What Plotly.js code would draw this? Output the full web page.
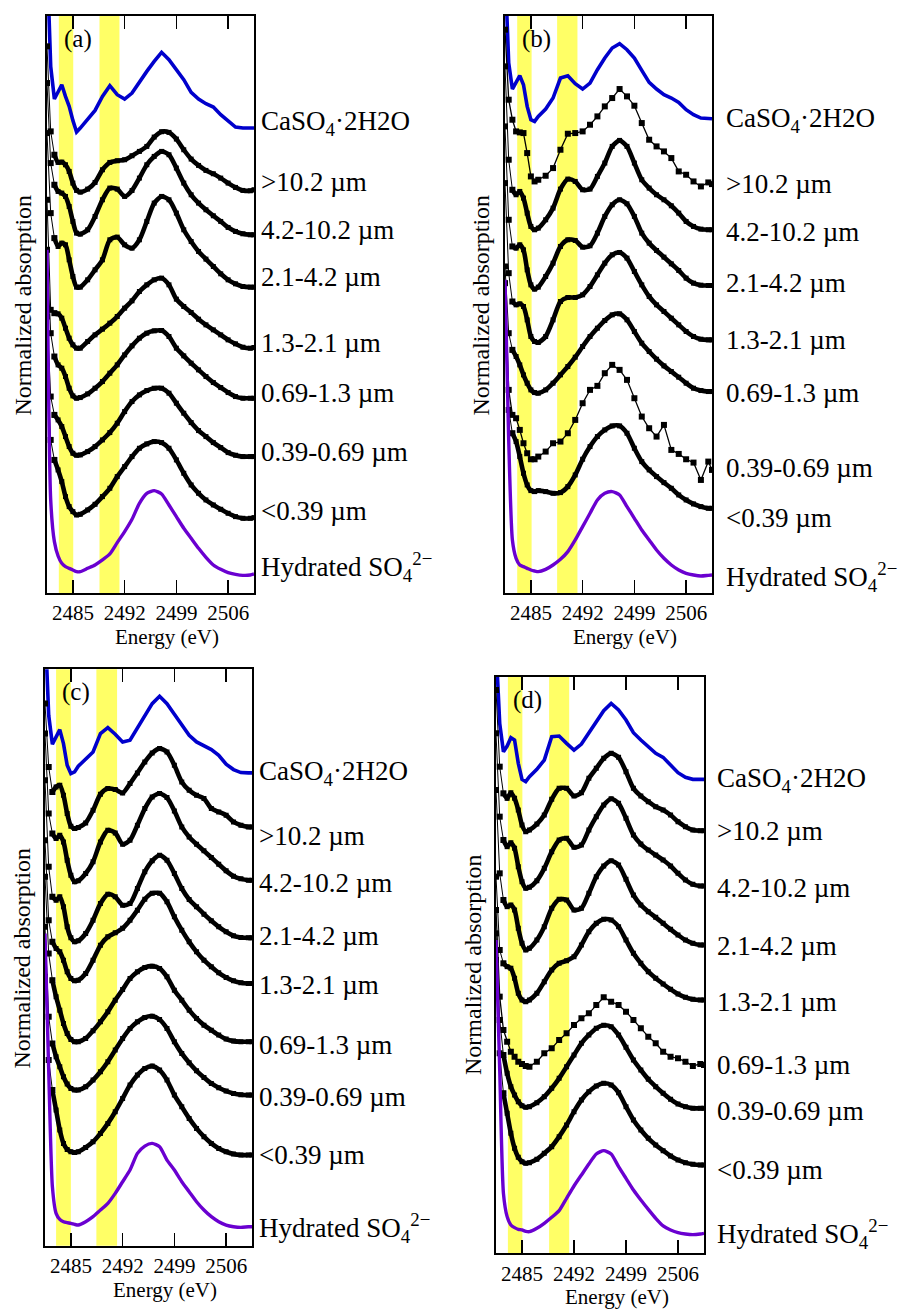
<!DOCTYPE html>
<html>
<head>
<meta charset="utf-8">
<script src="https://cdn.plot.ly/plotly-3.0.1.min.js"></script>
<style>
  html, body { margin: 0; padding: 0; background: #ffffff; }
  #chart { width: 905px; height: 1309px; }
</style>
</head>
<body>
<div id="chart"></div>
<script>
// S K-edge XANES, vertically offset spectra (arbitrary units)
const energy = [2481.5, 2482, 2482.5, 2483, 2483.5, 2484, 2484.5, 2485, 2485.5, 2486,
  2487, 2488, 2489, 2490, 2491, 2492, 2493, 2494, 2495, 2496, 2497, 2498, 2499, 2500,
  2501, 2502, 2503, 2504, 2505, 2506, 2507, 2508, 2509, 2509.5];

const tickEnergies = [2485, 2492, 2499, 2506];

const seriesNames = ['CaSO<sub>4</sub>·2H2O', '&gt;10.2 µm', '4.2-10.2 µm', '2.1-4.2 µm',
  '1.3-2.1 µm', '0.69-1.3 µm', '0.39-0.69 µm', '&lt;0.39 µm', 'Hydrated SO<sub>4</sub><sup>2−</sup>'];

const panelTags = ['(a)', '(b)', '(c)', '(d)'];

// Panel (a)
const a_CaSO4   = [1909,1579,1481,1504,1524,1489,1459,1417,1382,1394,1421,1447,1489,1521,1494,1481,1499,1534,1564,1594,1621,1599,1571,1539,1501,1481,1467,1457,1434,1414,1397,1394,1394,1394];
const a_gt10_2  = [1639,1384,1314,1291,1292,1284,1264,1229,1207,1202,1211,1231,1269,1291,1296,1299,1311,1324,1339,1367,1383,1381,1361,1329,1301,1282,1267,1257,1244,1229,1216,1207,1206,1209];
const a_4_2     = [1529,1289,1224,1204,1199,1189,1159,1114,1079,1076,1089,1129,1179,1214,1211,1189,1207,1244,1284,1309,1324,1314,1274,1229,1194,1169,1149,1131,1114,1096,1084,1077,1074,1074];
const a_2_1     = [1379,1139,1064,1039,1049,1044,999,949,917,917,939,969,999,1059,1067,1044,1034,1059,1114,1169,1189,1179,1139,1089,1054,1024,1001,979,957,939,927,919,917,917];
const a_1_3     = [1179,849,839,837,824,794,764,744,734,734,754,774,791,809,829,854,876,904,924,939,944,924,881,859,841,821,804,789,774,759,747,737,734,736];
const a_0_69    = [1029,779,709,684,674,649,614,591,584,586,597,614,634,659,684,714,741,764,779,786,787,769,734,711,689,669,649,631,616,601,589,584,584,584];
const a_0_39    = [829,589,534,519,499,469,439,419,413,414,424,439,459,481,509,544,574,594,607,614,614,599,569,539,511,487,469,451,436,421,413,409,409,409];
const a_lt0_39  = [679,459,399,369,334,289,259,244,234,236,249,266,289,314,349,379,409,434,447,454,451,434,399,359,324,299,279,264,251,239,229,224,224,226];
const a_SO4aq   = [1029,279,154,111,89,79,74,69,64,64,74,84,99,117,151,184,221,269,299,307,297,264,229,194,164,134,107,84,71,61,56,53,54,57];

// Panel (b)
const b_CaSO4   = [1879,1589,1511,1529,1551,1524,1459,1419,1414,1429,1451,1484,1544,1551,1527,1511,1529,1569,1604,1634,1647,1629,1604,1567,1531,1511,1494,1484,1471,1449,1434,1424,1422,1422];
const b_gt10_2  = [1689,1479,1419,1384,1381,1379,1319,1249,1234,1239,1251,1274,1329,1377,1379,1384,1404,1429,1459,1484,1511,1489,1461,1409,1359,1339,1324,1304,1264,1254,1234,1219,1231,1226];
const b_4_2     = [1579,1299,1209,1194,1204,1184,1139,1099,1089,1094,1119,1154,1211,1241,1234,1209,1211,1249,1289,1339,1357,1339,1289,1239,1214,1194,1179,1161,1139,1114,1099,1091,1089,1089];
const b_2_1     = [1399,1119,1039,1034,1044,1029,969,924,911,917,949,989,1039,1059,1057,1037,1041,1079,1129,1164,1179,1167,1129,1079,1049,1027,1007,987,967,944,929,923,922,922];
const b_1_3     = [1229,959,874,864,867,859,819,769,754,751,769,819,874,886,886,894,919,954,989,1014,1021,1004,964,924,889,864,844,824,804,784,769,761,759,759];
const b_0_69    = [979,779,729,709,684,654,629,609,601,599,609,629,654,679,707,739,769,794,817,834,837,819,784,749,724,701,681,664,647,629,614,607,604,604];
const b_0_39    = [929,609,534,524,489,449,419,401,401,409,424,449,454,479,519,569,609,621,659,684,669,639,584,529,494,469,504,429,417,401,391,339,394,369];
const b_lt0_39  = [779,549,479,454,409,359,324,307,304,307,304,299,301,319,354,401,439,469,489,501,501,479,434,394,369,349,331,314,294,279,267,259,254,254];
const b_SO4aq   = [939,459,159,104,84,79,74,69,66,64,71,84,101,124,159,199,239,279,299,304,294,259,224,189,159,129,104,84,69,59,54,51,53,54];

// Panel (c)
const c_CaSO4   = [1867,1592,1505,1527,1549,1507,1442,1417,1422,1439,1459,1482,1537,1555,1535,1512,1517,1555,1592,1627,1649,1627,1595,1562,1532,1512,1499,1489,1472,1445,1429,1420,1419,1419];
const c_gt10_2  = [1627,1437,1362,1377,1382,1352,1297,1259,1252,1255,1269,1307,1355,1372,1369,1359,1387,1419,1452,1479,1492,1482,1442,1392,1367,1352,1342,1312,1302,1292,1272,1262,1257,1257];
const c_4_2     = [1537,1297,1237,1222,1232,1212,1157,1112,1092,1095,1117,1152,1212,1247,1239,1205,1217,1262,1312,1347,1357,1345,1305,1257,1227,1205,1185,1165,1145,1125,1109,1101,1097,1097];
const c_2_1     = [1397,1137,1047,1037,1047,1017,957,924,912,915,937,977,1027,1055,1047,1022,1027,1072,1122,1155,1172,1157,1117,1072,1039,1017,995,975,957,942,930,925,924,924];
const c_1_3     = [1217,977,912,892,882,857,822,802,795,797,817,857,902,927,939,953,977,1007,1040,1058,1058,1032,987,947,912,882,857,837,819,805,795,789,787,787];
const c_0_69    = [1107,877,797,747,707,667,637,619,612,612,622,645,672,702,737,769,802,822,835,839,832,807,767,737,707,682,662,647,632,620,614,612,612,612];
const c_0_39    = [957,687,607,567,537,507,485,472,467,467,477,497,522,552,587,622,652,672,685,689,679,652,612,577,549,525,505,487,474,464,457,453,452,452];
const c_lt0_39  = [807,557,467,407,347,307,289,282,280,282,295,312,337,367,402,442,482,512,532,539,527,497,452,417,382,352,327,307,292,282,275,272,272,272];
const c_SO4aq   = [937,527,177,97,79,72,69,67,64,62,72,87,107,127,157,192,227,277,299,307,297,257,227,192,162,132,107,87,72,62,57,55,57,57];

// Panel (d)
const d_CaSO4   = [1820,1590,1505,1522,1547,1540,1470,1422,1415,1430,1452,1480,1550,1552,1530,1510,1528,1562,1595,1628,1650,1630,1600,1562,1540,1520,1500,1488,1465,1442,1428,1422,1422,1422];
const d_gt10_2  = [1690,1460,1380,1365,1382,1365,1330,1285,1265,1270,1288,1315,1362,1395,1395,1372,1382,1425,1455,1485,1500,1488,1445,1395,1372,1355,1340,1330,1315,1295,1280,1270,1268,1268];
const d_4_2     = [1560,1310,1240,1220,1232,1215,1160,1115,1095,1098,1118,1155,1205,1240,1245,1218,1225,1270,1310,1345,1364,1350,1305,1255,1228,1210,1195,1180,1162,1140,1120,1107,1102,1102];
const d_2_1     = [1390,1140,1060,1040,1045,1030,975,930,910,915,940,980,1035,1062,1060,1030,1035,1080,1130,1162,1178,1165,1122,1075,1045,1025,1008,990,972,955,940,930,925,925];
const d_1_3     = [1130,910,870,860,855,825,780,760,755,760,780,815,850,870,878,890,925,965,990,1002,1000,980,940,900,870,845,825,808,792,778,768,762,760,760];
const d_0_69    = [1030,770,670,635,605,590,575,568,562,560,575,600,615,640,660,685,705,720,745,768,755,745,725,700,675,650,630,605,590,585,575,562,568,565];
const d_0_39    = [960,700,595,540,500,475,455,443,438,440,452,470,495,525,560,595,630,655,675,684,680,655,618,580,550,522,500,480,462,448,440,435,435,435];
const d_lt0_39  = [880,600,480,420,360,315,288,275,270,272,282,300,320,350,385,425,460,485,502,510,505,482,440,400,370,345,325,308,292,280,272,267,265,265];
const d_SO4aq   = [940,550,180,110,85,77,72,70,66,65,75,90,108,128,165,202,235,268,298,308,298,260,225,190,160,132,105,82,70,62,58,56,58,60];

// Highlighted energy windows (eV)
const a_bands = [[2483.1, 2485.05], [2488.6, 2491.3]];
const b_bands = [[2483.15, 2485.1], [2488.55, 2491.3]];
const c_bands = [[2483.0, 2485.0], [2488.45, 2491.25]];
const d_bands = [[2483.1, 2485.05], [2488.65, 2491.35]];

// Layout of the four panels
const panels = [
  { spectra: [a_CaSO4, a_gt10_2, a_4_2, a_2_1, a_1_3, a_0_69, a_0_39, a_lt0_39, a_SO4aq],
    noisy: [], bands: a_bands, dom: { x: [0.05193, 0.28066], y: [0.54698, 0.98778] },
    labelDx: 5, nudges: [5, 8, 5, 10, 5, 5, 5, 7, 7] },
  { spectra: [b_CaSO4, b_gt10_2, b_4_2, b_2_1, b_1_3, b_0_69, b_0_39, b_lt0_39, b_SO4aq],
    noisy: [1, 6], bands: b_bands, dom: { x: [0.55801, 0.78674], y: [0.54698, 0.98778] },
    labelDx: 12, nudges: [-1, 0, -2, 2, 0, -1, 2, -10, -2] },
  { spectra: [c_CaSO4, c_gt10_2, c_4_2, c_2_1, c_1_3, c_0_69, c_0_39, c_lt0_39, c_SO4aq],
    noisy: [], bands: c_bands, dom: { x: [0.04972, 0.27845], y: [0.04836, 0.48870] },
    labelDx: 5, nudges: [0, -9, -3, 2, -2, -3, -2, 0, -1] },
  { spectra: [d_CaSO4, d_gt10_2, d_4_2, d_2_1, d_1_3, d_0_69, d_0_39, d_lt0_39, d_SO4aq],
    noisy: [5], bands: d_bands, dom: { x: [0.54807, 0.77790], y: [0.04255, 0.48304] },
    labelDx: 11, nudges: [-1, 0, -2, -1, -2, 0, -3, -5, -1] }
];

const SERIF = '"Liberation Serif", "Times New Roman", "DejaVu Serif", serif';
const BLUE = '#0000cc';
const VIOLET = '#6a00d0';
const YELLOW = '#ffff66';

const data = [];
const shapes = [];
const annotations = [];
const layout = {
  width: 905, height: 1309,
  margin: { l: 0, r: 0, t: 0, b: 0 },
  paper_bgcolor: '#ffffff', plot_bgcolor: '#ffffff',
  showlegend: false,
  font: { family: SERIF, color: '#000000' }
};

panels.forEach((p, i) => {
  const n = i === 0 ? '' : String(i + 1);
  const xa = 'x' + n, ya = 'y' + n;

  layout['xaxis' + n] = {
    domain: p.dom.x, anchor: ya, range: [2481.5, 2509.5],
    tickmode: 'array', tickvals: tickEnergies, ticktext: tickEnergies.map(String),
    ticks: 'inside', ticklen: 13, tickwidth: 1.6, tickcolor: '#000',
    showline: true, linecolor: '#000', linewidth: 2, mirror: 'ticks',
    showgrid: false, zeroline: false, ticklabelstandoff: 0,
    tickfont: { family: SERIF, size: 21, color: '#000' }
  };
  layout['yaxis' + n] = {
    domain: p.dom.y, anchor: xa, range: [0, 1730],
    showticklabels: false, ticks: '',
    showline: true, linecolor: '#000', linewidth: 2, mirror: true,
    showgrid: false, zeroline: false
  };

  p.bands.forEach(b => shapes.push({
    type: 'rect', xref: xa, yref: ya + ' domain', x0: b[0], x1: b[1], y0: 0, y1: 1,
    fillcolor: YELLOW, line: { width: 0 }, layer: 'below'
  }));

  p.spectra.forEach((vals, k) => {
    const base = { xaxis: xa, yaxis: ya, hoverinfo: 'skip', showlegend: false };
    if (k === 0) {
      data.push(Object.assign({}, base, { x: energy, y: vals, mode: 'lines',
        line: { color: BLUE, width: 3.6 } }));
    } else if (k === p.spectra.length - 1) {
      data.push(Object.assign({}, base, { x: energy, y: vals, mode: 'lines',
        line: { color: VIOLET, width: 3.4, shape: 'spline', smoothing: 0.6 } }));
    } else if (p.noisy.indexOf(k) >= 0) {
      data.push(Object.assign({}, base, { x: energy, y: vals, mode: 'lines+markers',
        line: { color: '#000', width: 1.3 },
        marker: { symbol: 'square', size: 6, color: '#000' } }));
    } else {
      // steep edge drawn as sparse points, the rest as a dense thick trace
      data.push(Object.assign({}, base, { x: energy.slice(0, 3), y: vals.slice(0, 3),
        mode: 'lines+markers', line: { color: '#000', width: 1 },
        marker: { symbol: 'square', size: 6, color: '#000' } }));
      data.push(Object.assign({}, base, { x: energy.slice(2), y: vals.slice(2),
        mode: 'lines+markers', line: { color: '#000', width: 4.6, shape: 'spline', smoothing: 0.7 },
        marker: { symbol: 'square', size: 5, color: '#000' } }));
    }

    annotations.push({
      xref: xa + ' domain', x: 1, xanchor: 'left', xshift: p.labelDx,
      yref: ya, y: vals[vals.length - 1], yanchor: 'middle', yshift: p.nudges[k],
      text: seriesNames[k], showarrow: false,
      font: { family: SERIF, size: 27, color: '#000' }
    });
  });

  annotations.push({
    xref: xa + ' domain', x: 0.152, yref: ya + ' domain', y: 0.96,
    xanchor: 'center', yanchor: 'middle', text: panelTags[i], showarrow: false,
    font: { family: SERIF, size: 25, color: '#000' }
  });
  annotations.push({
    xref: xa + ' domain', x: 0, xshift: -23, xanchor: 'center',
    yref: ya + ' domain', y: 0.5, yanchor: 'middle', textangle: -90,
    text: 'Normalized absorption', showarrow: false,
    font: { family: SERIF, size: 24, color: '#000' }
  });
  annotations.push({
    xref: xa + ' domain', x: 0.5, xshift: 17, xanchor: 'center',
    yref: ya + ' domain', y: 0, yshift: -44, yanchor: 'middle',
    text: 'Energy (eV)', showarrow: false,
    font: { family: SERIF, size: 21, color: '#000' }
  });
});

layout.shapes = shapes;
layout.annotations = annotations;

Plotly.newPlot('chart', data, layout, { staticPlot: true, displayModeBar: false });
</script>
</body>
</html>
